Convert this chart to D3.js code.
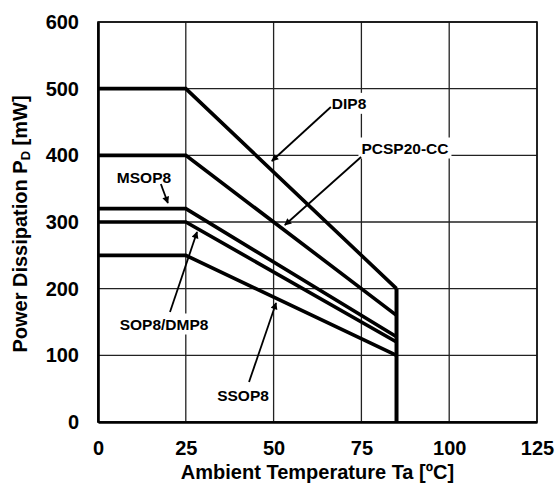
<!DOCTYPE html>
<html><head><meta charset="utf-8">
<script src="https://cdn.jsdelivr.net/npm/d3@7"></script>
<style>body{margin:0;background:#fff}svg{display:block}text{font-family:"Liberation Sans",Arial,sans-serif;font-weight:bold;fill:#000}</style>
</head><body>
<svg id="c" width="557" height="488"></svg>
<script>
const packages = ["DIP8", "PCSP20-CC", "MSOP8", "SOP8/DMP8", "SSOP8"];
const pdAt25 = [500, 400, 320, 300, 250];
const pdAt85 = [200, 160, 128, 120, 100];
const tempKnee = 25, tempMax = 85;
const xTicks = [0, 25, 50, 75, 100, 125];
const yTicks = [0, 100, 200, 300, 400, 500, 600];
const xTitle = "Ambient Temperature Ta [ºC]";

const svg = d3.select("#c");
const L = 98, R = 537, T = 22, B = 422;
const x = d3.scaleLinear().domain([0, 125]).range([L, R]);
const y = d3.scaleLinear().domain([0, 600]).range([B, T]);

// grid
const g = svg.append("g");
g.selectAll(".vg").data(xTicks).join("line")
  .attr("x1", d => x(d)).attr("x2", d => x(d)).attr("y1", T).attr("y2", B)
  .attr("stroke", "#222").attr("stroke-width", 1.3);
g.selectAll(".hg").data(yTicks).join("line")
  .attr("y1", d => y(d)).attr("y2", d => y(d)).attr("x1", L).attr("x2", R)
  .attr("stroke", "#222").attr("stroke-width", 1.3);
g.append("rect").attr("x", L).attr("y", T).attr("width", R - L).attr("height", B - T)
  .attr("fill", "none").attr("stroke", "#111").attr("stroke-width", 1.6);
// axes (thick left & bottom)
const xAxis = d3.axisBottom(x).tickValues(xTicks).tickSize(0).tickPadding(19);
const yAxis = d3.axisLeft(y).tickValues(yTicks).tickSize(0).tickPadding(19);
const xa = svg.append("g").attr("transform", `translate(0,${B})`).call(xAxis);
const ya = svg.append("g").attr("transform", `translate(${L},0)`).call(yAxis);
[xa, ya].forEach(a => {
  a.select(".domain").attr("stroke", "#000").attr("stroke-width", 2.6);
  a.selectAll("text").style("font-size", "20px").style("font-family", '"Liberation Sans",Arial,sans-serif').style("font-weight", "bold").attr("fill", "#000");
});

// curves
const line = d3.line().x(d => x(d[0])).y(d => y(d[1]));
packages.forEach((p, i) => {
  svg.append("path").datum([[0, pdAt25[i]], [tempKnee, pdAt25[i]], [tempMax, pdAt85[i]]])
    .attr("d", line).attr("fill", "none").attr("stroke", "#000")
    .attr("stroke-width", 3.6).attr("stroke-linejoin", "miter");
});
svg.append("line").attr("x1", x(tempMax)).attr("x2", x(tempMax))
  .attr("y1", y(d3.max(pdAt85))).attr("y2", y(0))
  .attr("stroke", "#000").attr("stroke-width", 4);

// annotations
svg.append("defs").append("marker").attr("id", "ah").attr("viewBox", "0 0 10 10")
  .attr("refX", 9).attr("refY", 5).attr("markerWidth", 9).attr("markerHeight", 7)
  .attr("markerUnits", "userSpaceOnUse").attr("orient", "auto")
  .append("path").attr("d", "M0,0L10,5L0,10z").attr("fill", "#000");
const notes = [
  {i: 0, tx: 71.5, tv: 478, a: [[66.3, 472.5], [49.5, 391.5]]},
  {i: 1, tx: 87.4, tv: 411, a: [[74.9, 397.5], [53.2, 295.5]]},
  {i: 2, tx: 13.1, tv: 367, a: [[17.9, 357], [19.9, 328.5]]},
  {i: 3, tx: 18.8, tv: 147, a: [[20.5, 165], [28.2, 285]]},
  {i: 4, tx: 41.3, tv: 40.5, a: [[43, 60], [50.7, 178.5]]}
];
notes.forEach(n => {
  const t = svg.append("text").attr("x", x(n.tx)).attr("y", y(n.tv))
    .attr("text-anchor", "middle").attr("dominant-baseline", "central")
    .style("font-size", "15.5px").text(packages[n.i]);
  const bb = t.node().getBBox();
  svg.insert("rect", () => t.node()).attr("x", bb.x - 3).attr("y", bb.y - 2)
    .attr("width", bb.width + 6).attr("height", bb.height + 4).attr("fill", "#fff");
  svg.append("line").attr("x1", x(n.a[0][0])).attr("y1", y(n.a[0][1]))
    .attr("x2", x(n.a[1][0])).attr("y2", y(n.a[1][1]))
    .attr("stroke", "#000").attr("stroke-width", 1.8).attr("marker-end", "url(#ah)");
});

// titles
svg.append("text").attr("x", (L + R) / 2).attr("y", 472).attr("text-anchor", "middle")
  .attr("dominant-baseline", "central").style("font-size", "20px").text(xTitle);
const yt = svg.append("text").attr("transform", `translate(20,224) rotate(-90)`)
  .attr("text-anchor", "middle").attr("dominant-baseline", "central").style("font-size", "20px");
yt.append("tspan").text("Power Dissipation P");
yt.append("tspan").attr("dy", 5).style("font-size", "13px").text("D");
yt.append("tspan").attr("dy", -5).text(" [mW]");
</script>
</body></html>
